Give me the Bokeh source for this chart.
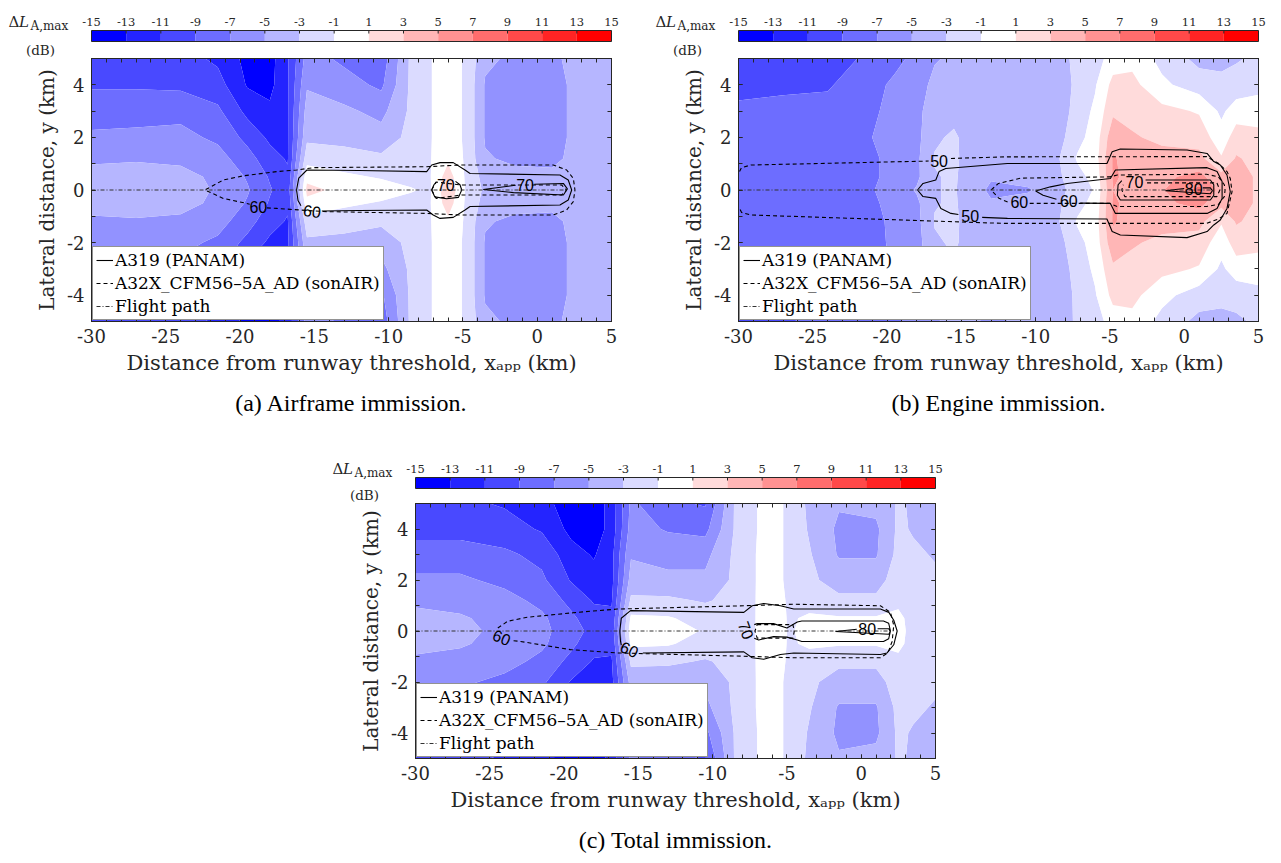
import numpy as np
from bokeh.plotting import figure
from bokeh.layouts import column, row
from bokeh.models import (FixedTicker, LinearAxis, Legend, LegendItem, Title,
                          ColumnDataSource, Spacer)
from bokeh.core.properties import value
from bokeh.embed import file_html
from bokeh.resources import INLINE

NAN = float("nan")

# ---------------- colour scale ----------------
LEVELS = [-15, -13, -11, -9, -7, -5, -3, -1, 1, 3, 5, 7, 9, 11, 13, 15]
LEVEL_LABELS = ["-15", "-13", "-11", "-9", "-7", "-5", "-3", "-1",
                "1", "3", "5", "7", "9", "11", "13", "15"]
BAND_COLORS = ["#0000ff", "#2424ff", "#4949ff", "#6d6dff", "#9292ff", "#b6b6ff",
               "#dbdbff", "#ffffff", "#ffdbdb", "#ffb6b6", "#ff9292", "#ff6d6d",
               "#ff4949", "#ff2424", "#ff0000"]

# ---------------- grid of the Delta L_A,max maps ----------------
X_GRID = [-30, -27, -24, -21.5, -19.5, -18, -16.8, -15.5, -13, -10.5, -8.5, -7.2,
          -6, -4.8, -3.5, -1.5, 1, 2.5, 3.5, 5]
Y_GRID = [5, 4, 3, 2, 1.2, 0.5, 0, -0.5, -1.2, -2, -3, -4, -5]

# one list per x column, values from y = 5 (top) to y = -5 (bottom), in dB
AIRFRAME_COLS = [
    [-9.4, -9.2, -8.0, -6.6, -5.4, -4.2, -4.0, -4.2, -5.4, -6.6, -8.0, -9.2, -9.6],
    [-9.6, -9.2, -8.0, -6.4, -5.2, -4.2, -4.0, -4.2, -5.2, -6.4, -8.0, -9.2, -9.6],
    [-10.2, -9.4, -7.6, -6.4, -5.4, -4.4, -4.2, -4.4, -5.4, -6.4, -7.6, -9.4, -10.2],
    [-11.4, -10.2, -8.6, -7.4, -6.2, -5.4, -5.2, -5.4, -6.2, -7.4, -8.6, -10.2, -11.4],
    [-13.6, -13.2, -11.6, -9.6, -8.2, -7.2, -6.8, -7.2, -8.2, -9.6, -11.6, -13.2, -13.6],
    [-13.8, -13.6, -12.6, -11.4, -10.2, -9.2, -8.8, -9.2, -10.2, -11.4, -12.6, -13.6, -13.8],
    [-11.2, -11.2, -11.2, -11.2, -11.2, -10.6, -10.2, -10.6, -11.2, -11.4, -11.6, -12.0, -12.4],
    [-6.2, -5.2, -4.2, -3.4, -1.8, 0.4, 1.6, 0.4, -1.8, -3.4, -4.2, -5.2, -6.2],
    [-7.4, -6.2, -4.6, -3.6, -2.2, -0.6, 0.4, -0.6, -2.2, -3.6, -4.6, -6.2, -7.4],
    [-8.2, -7.4, -5.6, -4.2, -2.6, -1.2, 0.0, -1.2, -2.6, -4.2, -5.6, -7.4, -8.2],
    [-2.6, -2.6, -2.6, -2.4, -2.0, -1.4, -0.9, -1.4, -2.0, -2.4, -2.6, -2.6, -2.6],
    [-1.1, -1.1, -1.1, -1.1, -1.1, -1.1, -1.2, -1.1, -1.1, -1.1, -1.1, -1.1, -1.1],
    [0.0, 0.0, 0.0, 0.0, 0.6, 2.0, 2.6, 2.0, 0.6, 0.0, 0.0, 0.0, 0.0],
    [-1.3, -1.3, -1.3, -1.3, -1.3, -1.3, -1.2, -1.3, -1.3, -1.3, -1.3, -1.3, -1.3],
    [-4.6, -5.2, -5.2, -5.2, -4.8, -3.8, -3.4, -3.8, -4.8, -5.2, -5.2, -5.2, -4.6],
    [-5.4, -5.8, -6.2, -6.2, -5.4, -4.4, -4.0, -4.4, -5.4, -6.2, -6.2, -5.8, -5.4],
    [-5.6, -6.2, -6.2, -6.2, -5.6, -4.4, -4.0, -4.4, -5.6, -6.2, -6.2, -6.2, -5.6],
    [-4.2, -4.4, -4.4, -4.4, -4.4, -4.0, -3.8, -4.0, -4.4, -4.4, -4.4, -4.4, -4.2],
    [-4.0, -4.0, -4.0, -4.0, -4.0, -4.0, -3.8, -4.0, -4.0, -4.0, -4.0, -4.0, -4.0],
    [-4.0, -4.0, -4.0, -4.0, -4.0, -4.0, -4.0, -4.0, -4.0, -4.0, -4.0, -4.0, -4.0],
]

ENGINE_COLS = [
    [-10.2, -9.6, -8.6, -8.4, -8.4, -8.4, -8.2, -8.4, -8.4, -8.4, -8.4, -8.6, -9.2],
    [-10.2, -9.4, -8.4, -8.4, -8.4, -8.4, -8.2, -8.4, -8.4, -8.4, -8.4, -8.6, -9.2],
    [-9.8, -9.2, -8.4, -8.4, -8.4, -8.2, -8.0, -8.2, -8.4, -8.4, -8.4, -8.4, -8.6],
    [-8.8, -8.0, -7.4, -7.2, -7.6, -7.6, -7.4, -7.6, -7.8, -8.0, -8.0, -8.0, -8.0],
    [-7.6, -6.6, -6.6, -6.4, -6.4, -6.4, -6.2, -6.4, -6.6, -6.6, -6.8, -6.8, -7.2],
    [-6.4, -6.0, -5.8, -5.6, -5.4, -5.4, -4.8, -5.4, -5.6, -5.8, -6.0, -6.4, -6.6],
    [-5.2, -4.4, -3.4, -3.2, -2.9, -3.1, -3.1, -3.1, -2.9, -3.2, -3.6, -4.4, -5.2],
    [-4.6, -4.0, -3.4, -2.8, -2.8, -2.8, -2.8, -2.8, -2.8, -2.8, -3.2, -4.0, -4.6],
    [-4.2, -4.0, -4.4, -4.4, -4.2, -4.8, -5.4, -4.8, -4.2, -4.4, -4.4, -4.6, -5.2],
    [-4.2, -4.6, -4.8, -4.2, -3.4, -4.2, -5.2, -4.2, -3.4, -4.2, -4.8, -4.8, -4.8],
    [-3.6, -4.0, -4.2, -3.8, -3.2, -3.4, -3.6, -3.4, -3.2, -3.8, -4.2, -4.2, -4.4],
    [-2.6, -2.6, -2.2, -1.6, -0.8, -1.6, -2.2, -1.6, -0.8, -1.6, -2.2, -2.6, -2.6],
    [-2.0, -1.2, -0.6, -0.2, 0.0, -0.4, -0.8, -0.4, 0.0, -0.2, -0.6, -1.2, -2.0],
    [0.0, 1.6, 2.6, 4.4, 5.2, 5.2, 5.0, 5.2, 5.2, 4.4, 2.6, 1.6, 0.0],
    [0.4, 1.6, 2.4, 3.2, 4.2, 4.6, 4.6, 4.6, 4.2, 3.2, 2.4, 1.6, 0.4],
    [-1.6, -0.6, 1.6, 2.6, 3.6, 4.6, 4.8, 4.6, 3.6, 2.6, 1.6, -0.4, -1.6],
    [-3.6, -2.0, 0.8, 2.2, 3.6, 5.6, 7.6, 5.6, 3.6, 2.2, 0.8, -2.0, -3.6],
    [-3.6, -2.4, -1.4, -0.2, 1.2, 3.6, 4.2, 3.6, 1.2, -0.2, -1.4, -2.4, -3.6],
    [-3.2, -2.2, 0.0, 2.0, 3.2, 4.2, 4.2, 4.2, 3.2, 2.0, 0.0, -2.2, -3.4],
    [-2.6, -1.6, 0.0, 1.6, 2.4, 2.6, 2.6, 2.6, 2.4, 1.6, 0.0, -1.6, -2.6],
]

TOTAL_COLS = [
    [-10.4, -9.6, -8.2, -6.6, -5.4, -4.4, -4.2, -4.4, -5.4, -6.6, -8.2, -9.6, -10.4],
    [-10.6, -9.6, -8.2, -6.6, -5.6, -4.8, -4.6, -4.8, -5.6, -6.6, -8.2, -9.6, -10.6],
    [-11.2, -10.2, -8.6, -7.6, -6.2, -5.6, -5.4, -5.6, -6.2, -7.6, -8.6, -10.2, -11.2],
    [-12.2, -11.2, -9.6, -8.6, -7.6, -6.6, -6.4, -6.6, -7.6, -8.6, -9.6, -11.2, -12.2],
    [-14.2, -13.6, -12.2, -11.2, -9.6, -8.6, -8.2, -8.6, -9.6, -11.2, -12.2, -13.6, -14.2],
    [-14.2, -14.2, -13.2, -12.2, -11.2, -10.2, -9.6, -10.2, -11.2, -12.2, -13.2, -14.2, -14.2],
    [-12.2, -12.2, -11.6, -11.6, -11.2, -10.6, -10.2, -10.6, -11.2, -11.6, -11.6, -12.2, -12.4],
    [-6.6, -6.2, -5.2, -4.2, -2.6, -0.6, 0.2, -0.6, -2.6, -4.2, -5.2, -6.2, -6.6],
    [-8.6, -7.2, -5.6, -4.6, -2.6, -0.8, 0.0, -0.8, -2.6, -4.6, -5.6, -7.2, -8.6],
    [-9.2, -7.6, -5.6, -4.6, -3.2, -1.8, -1.2, -1.8, -3.2, -4.6, -5.6, -7.6, -9.2],
    [-2.8, -2.8, -2.6, -2.6, -2.4, -2.0, -1.8, -2.0, -2.4, -2.6, -2.6, -2.8, -2.8],
    [-1.2, -1.2, -1.1, -1.1, -1.1, -1.1, -1.1, -1.1, -1.1, -1.1, -1.1, -1.2, -1.2],
    [0.0, 0.0, 0.0, 0.0, 0.2, 0.3, 0.5, 0.3, 0.2, 0.0, 0.0, 0.0, 0.0],
    [-1.6, -1.6, -1.6, -1.6, -1.4, -1.3, -1.3, -1.3, -1.4, -1.6, -1.6, -1.6, -1.6],
    [-3.4, -3.2, -2.8, -2.6, -2.0, -0.6, 0.0, -0.6, -2.0, -2.6, -2.8, -3.2, -3.4],
    [-4.8, -5.4, -5.2, -3.8, -2.6, -0.8, -0.2, -0.8, -2.6, -3.8, -5.2, -5.4, -4.8],
    [-4.4, -5.4, -5.2, -3.8, -2.6, -0.8, -0.2, -0.8, -2.6, -3.8, -5.2, -5.4, -4.4],
    [-2.8, -2.6, -2.4, -2.0, -1.4, -0.6, -0.4, -0.6, -1.4, -2.0, -2.4, -2.6, -2.8],
    [-3.2, -3.2, -2.6, -2.0, -1.6, -1.6, -1.6, -1.6, -1.6, -2.0, -2.6, -3.2, -3.2],
    [-3.4, -3.4, -3.2, -2.6, -2.2, -2.0, -2.0, -2.0, -2.2, -2.6, -3.2, -3.4, -3.4],
]

# ---------------- L_A,max contour lines (km), NaN separates pieces ----------------
# (a) airframe
A_SOLID_X = [-14.5, -12.0, -7.44, -7.0, -6.54, -5.65, -4.86, -4.52, 1.53, 2.09, 2.32, 2.09, 1.53,
             -4.52, -4.86, -5.65, -6.54, -7.1, -7.44, -12.0, -15.5, -16.05, -16.2, -16.1, -15.9, NAN,
             -6.8, -6.95, -7.1, -6.9, -6.1, -5.3, -5.08, -5.2, -5.5, NAN,
             -0.2, 1.76, 2.03, 1.76, -1.6, -3.63, -1.6, -1.45]
A_SOLID_Y = [-0.80, -0.78, -0.76, -0.95, -1.08, -1.04, -0.76, -0.63, -0.57, -0.38, 0.0, 0.38, 0.57,
             0.63, 0.76, 1.04, 1.04, 0.95, 0.70, 0.74, 0.76, 0.45, 0.0, -0.4, -0.6, NAN,
             0.3, 0.2, 0.0, -0.26, -0.33, -0.28, 0.0, 0.2, 0.33, NAN,
             0.22, 0.25, 0.04, -0.19, -0.1, 0.02, 0.17, 0.18]
A_DASH_X = [-18.2, -17.54, -14.4, -7.44, -5.2, 1.08, 1.98, 2.43, 2.54, 2.43, 1.98, 1.08, -5.2,
            -7.44, -15.07, -16.19, -17.54, -19.78, -21.13, -22.36, -21.13, -19.56, -19.35, NAN,
            -7.11, -6.8, -5.09, 1.64, 1.98, 1.64, -5.09, -6.8, -7.11]
A_DASH_Y = [-0.68, -0.70, -0.82, -0.89, -0.95, -0.95, -0.76, -0.44, 0.0, 0.44, 0.76, 0.95, 0.95,
            0.885, 0.85, 0.76, 0.70, 0.54, 0.38, 0.0, -0.32, -0.51, -0.54, NAN,
            0.0, 0.3, 0.19, 0.19, 0.0, -0.19, -0.19, -0.32, 0.0]
A_LABEL_X = [-15.15, -18.77, -6.15, -0.82]
A_LABEL_Y = [-0.80, -0.63, 0.19, 0.18]
A_LABEL_TEXT = ["60", "60", "70", "70"]
A_LABEL_ANGLE = [-8, 0, 0, 0]

# (b) engine
B_SOLID_X = [-13.6, -11.9, -5.2, -4.85, -4.3, 0.19, 1.54, 1.99, 2.43, 2.88, 3.1, 2.88, 2.43, 1.99,
             1.54, 0.19, -4.3, -4.85, -5.2, -11.9, -16.05, -16.5, -16.72, -17.58, -17.95, -17.58,
             -16.72, -16.38, -15.7, -15.2, NAN,
             -7.0, -4.97, -4.63, 1.54, 2.21, 2.55, 2.55, 2.21, 1.54, -4.63, -4.97, -7.88, -9.0,
             -10.0, -9.5, -8.6, NAN,
             -2.6, 1.76, 1.99, 1.99, 1.76, -4.3, -4.5, -4.45, -4.2, NAN,
             1.25, 1.76, 1.9, 1.76, -1.27, 0.0]
B_SOLID_Y = [-1.04, -1.08, -1.1, -1.58, -1.71, -1.81, -1.58, -1.33, -1.14, -0.7, -0.06, 0.57, 0.95,
             1.08, 1.39, 1.52, 1.56, 1.455, 1.01, 1.01, 0.82, 0.7, 0.38, 0.25, 0.0, -0.25,
             -0.32, -0.70, -0.89, -0.93, NAN,
             -0.5, -0.51, -0.89, -0.89, -0.7, -0.32, 0.32, 0.7, 0.85, 0.76, 0.44, 0.25, 0.12,
             -0.04, -0.2, -0.35, NAN,
             0.38, 0.38, 0.2, -0.2, -0.38, -0.38, -0.2, 0.2, 0.36, NAN,
             0.08, 0.08, -0.03, -0.14, -0.03, 0.06]
B_DASH_X = [-29.93, -29.8, -29.17, -17.2, NAN,
            -15.7, -12.0, 1.5, 2.32, 2.88, 3.1, 3.22, 2.88, 2.32, 1.5, -12.12, -15.85, -29.17,
            -29.8, -29.93, NAN,
            -10.4, -5.0, -4.5, 1.5, 2.3, 2.7, 2.75, 2.7, 2.3, 1.5, -4.5, -5.0, -11.0, -12.5,
            -13.0, -12.5, -11.8, NAN,
            -2.5, 2.2, 2.4, 2.2, -4.0, -4.2, -4.1]
B_DASH_Y = [0.7, 0.85, 0.95, 1.1, NAN,
            1.2, 1.26, 1.27, 1.01, 0.7, 0.44, -0.06, -0.89, -1.1, -1.27, -1.27, -1.2, -0.95,
            -0.85, -0.7, NAN,
            -0.51, -0.51, -0.63, -0.63, -0.55, -0.25, 0.0, 0.2, 0.5, 0.6, 0.57, 0.5, 0.45, 0.25,
            0.0, -0.3, -0.48, NAN,
            0.27, 0.27, 0.0, -0.25, -0.25, 0.0, 0.2]
B_LABEL_X = [-14.4, -16.5, -7.77, -11.1, -3.35, 0.64]
B_LABEL_Y = [-0.98, 1.12, -0.43, -0.46, 0.3, 0.05]
B_LABEL_TEXT = ["50", "50", "60", "60", "70", "80"]
B_LABEL_ANGLE = [0, 0, 0, 0, 0, 0]

# (c) total
C_SOLID_X = [-14.7, -7.9, -7.34, -6.56, -5.44, -4.54, 1.29, 1.74, 2.19, 2.42, 2.19, 1.86, 1.29,
             -4.54, -5.44, -6.56, -7.34, -7.9, -15.53, -16.15, -16.25, -16.2, -16.15, NAN,
             -7.2, -7.0, -5.9, -5.0, -4.3, -4.0, 1.5, 1.85, 1.97, 1.85, 1.5, -4.0, -4.3, -5.0,
             -5.9, -6.9, -7.2, NAN,
             1.1, 1.86, 1.95, 1.86, -1.73, -0.3]
C_SOLID_Y = [-0.86, -0.82, -1.05, -1.11, -0.92, -0.86, -0.92, -0.86, -0.54, 0.0, 0.42, 0.73, 0.86,
             0.86, 0.99, 1.08, 0.99, 0.73, 0.80, 0.5, 0.0, -0.4, -0.55, NAN,
             0.25, 0.29, 0.29, 0.12, 0.35, 0.39, 0.39, 0.3, 0.0, -0.3, -0.41, -0.41, -0.35, -0.24,
             -0.22, -0.35, -0.28, NAN,
             0.09, 0.09, -0.02, -0.13, -0.02, 0.07]
C_DASH_X = [-23.4, -22.93, -19.57, -16.43, -7.9, -4.54, 1.29, 1.8, 2.08, 2.19, 1.97, 1.29, -4.54,
            -7.9, -16.43, -19.12, -22.48, -23.8, -24.55, NAN,
            -7.0, -4.6, -4.5, -4.6, -7.0, -7.15, -7.0]
C_DASH_Y = [-0.38, -0.41, -0.73, -0.86, -0.99, -1.05, -1.05, -0.85, -0.41, 0.22, 0.73, 0.99, 1.05,
            0.99, 0.86, 0.73, 0.54, 0.38, 0.08, NAN,
            0.25, 0.25, 0.0, -0.28, -0.28, 0.0, 0.25]
C_LABEL_X = [-15.6, -24.2, -7.75, 0.4]
C_LABEL_Y = [-0.72, -0.25, 0.03, 0.06]
C_LABEL_TEXT = ["60", "60", "70", "80"]
C_LABEL_ANGLE = [-25, -22, -70, 0]

FLIGHT_X = [-30, 2]
FLIGHT_Y = [0, 0]

X_TICKS = [-30, -25, -20, -15, -10, -5, 0, 5]
X_TICK_LABELS = ["-30", "-25", "-20", "-15", "-10", "-5", "0", "5"]
Y_TICKS = [-4, -2, 0, 2, 4]
Y_TICK_LABELS = ["-4", "-2", "0", "2", "4"]

CAPTIONS = ["(a) Airframe immission.", "(b) Engine immission.", "(c) Total immission."]

# ---------------- styling ----------------
SERIF = "DejaVu Serif"
CAP_FONT = "Liberation Serif"
FRAME = "#262626"
FRAME_W = 520.0          # plot-frame width in px (shared by colour bars)


def style_ticks(ax, font_px):
    ax.major_tick_in = 4
    ax.major_tick_out = 0
    ax.minor_tick_in = 4
    ax.minor_tick_out = 0
    ax.axis_line_color = FRAME
    ax.major_tick_line_color = FRAME
    ax.minor_tick_line_color = FRAME
    ax.major_label_text_font = SERIF
    ax.major_label_text_font_size = font_px
    ax.major_label_text_color = FRAME


def colorbar_fig(width, left, height, bar_top, db_base):
    k = FRAME_W / (LEVELS[-1] - LEVELS[0])          # px per dB
    x0 = LEVELS[0] - left / k
    x1 = LEVELS[-1] + (width - left - FRAME_W) / k
    p = figure(width=width, height=height, x_range=(x0, x1), y_range=(0, height),
               x_axis_location=None, y_axis_location=None, frame_align=False,
               toolbar_location=None, output_backend="svg",
               min_border_left=0, min_border_right=0, min_border_top=0, min_border_bottom=0)
    p.outline_line_color = None
    p.grid.visible = False
    top = height - bar_top
    bot = top - 11
    p.quad(left=LEVELS[:-1], right=LEVELS[1:], bottom=bot, top=top,
           fill_color=BAND_COLORS, line_color=None)
    p.quad(left=LEVELS[0], right=LEVELS[-1], bottom=bot, top=top,
           fill_color=None, line_color=FRAME, line_width=1)
    p.segment(x0=LEVELS[1:-1], y0=top, x1=LEVELS[1:-1], y1=top - 3,
              line_color=FRAME, line_width=1)
    p.text(x=LEVELS, y=[top + 9] * len(LEVELS), text=LEVEL_LABELS,
           text_align="center", text_baseline="alphabetic",
           text_font=value(SERIF), text_font_size="11.5px", text_color=FRAME)

    def tx(px_off):
        return LEVELS[0] + px_off / k

    base_main = top + 8.5
    p.text(x=[tx(-83)], y=[base_main], text=["Δ"], text_align="left",
           text_baseline="alphabetic", text_font=value(SERIF), text_font_size="15px",
           text_color=FRAME)
    p.text(x=[tx(-72.5)], y=[base_main], text=["L"], text_align="left",
           text_baseline="alphabetic", text_font=value(SERIF), text_font_size="15px",
           text_font_style=value("italic"), text_color=FRAME)
    p.text(x=[tx(-61)], y=[top + 5], text=["A,max"], text_align="left",
           text_baseline="alphabetic", text_font=value(SERIF), text_font_size="12px",
           text_color=FRAME)
    p.text(x=[tx(-51)], y=[height - db_base], text=["(dB)"], text_align="center",
           text_baseline="alphabetic", text_font=value(SERIF), text_font_size="13.5px",
           text_color=FRAME)
    return p


def main_fig(width, left, right, top, frame_h, bottom, cols, solid, dash, labels, caption):
    p = figure(width=width, height=top + frame_h + bottom, x_range=(-30, 5), y_range=(-5, 5),
               toolbar_location=None, output_backend="svg", frame_align=False,
               min_border_left=left, min_border_right=right,
               min_border_top=top, min_border_bottom=bottom)
    p.grid.visible = False
    p.outline_line_color = FRAME

    z = np.array(cols, dtype=float).T[::-1]
    yy = np.array(Y_GRID, dtype=float)[::-1]
    p.contour(x=np.array(X_GRID, dtype=float), y=yy, z=z, levels=LEVELS,
              fill_color=BAND_COLORS, line_color=None)

    r_solid = p.line(solid[0], solid[1], line_color="black", line_width=1.1)
    r_dash = p.line(dash[0], dash[1], line_color="black", line_width=1.1, line_dash="4 3")
    r_fp = p.line(FLIGHT_X, FLIGHT_Y, line_color="#333333", line_width=1,
                  line_dash="4 2 1 2")

    src = ColumnDataSource(dict(x=labels[0], y=labels[1], t=labels[2], a=labels[3]))
    p.text(x="x", y="y", text="t", angle="a", angle_units="deg", source=src,
           text_font=value("Liberation Sans"), text_font_size="16px",
           text_align="center", text_baseline="middle", text_color="black")

    xt = FixedTicker(ticks=X_TICKS, minor_ticks=list(range(-30, 6)))
    yt = FixedTicker(ticks=Y_TICKS, minor_ticks=list(range(-5, 6)))
    xa = p.xaxis[0]
    ya = p.yaxis[0]
    xa.ticker = xt
    ya.ticker = yt
    xa.major_label_overrides = {v: s for v, s in zip(X_TICKS, X_TICK_LABELS)}
    ya.major_label_overrides = {v: s for v, s in zip(Y_TICKS, Y_TICK_LABELS)}
    for ax in (xa, ya):
        style_ticks(ax, "18px")
        ax.axis_label_text_font = SERIF
        ax.axis_label_text_font_style = "normal"
        ax.axis_label_text_color = FRAME
    xa.axis_label_text_font_size = "21px"
    ya.axis_label_text_font_size = "20px"
    xa.axis_label = "Distance from runway threshold, xₐₚₚ (km)"
    ya.axis_label = "Lateral distance, y (km)"
    xa.major_label_standoff = 7
    xa.axis_label_standoff = 5
    ya.major_label_standoff = 7
    ya.axis_label_standoff = 5

    for loc, tk in (("above", xt), ("right", yt)):
        ax = LinearAxis(ticker=tk)
        style_ticks(ax, "0px")
        ax.major_label_standoff = 0
        ax.major_label_text_alpha = 0
        p.add_layout(ax, loc)

    legend = Legend(items=[LegendItem(label="A319 (PANAM)", renderers=[r_solid]),
                           LegendItem(label="A32X_CFM56–5A_AD (sonAIR)", renderers=[r_dash]),
                           LegendItem(label="Flight path", renderers=[r_fp])],
                    location="bottom_left", margin=1, padding=3, spacing=3,
                    glyph_width=17, glyph_height=20, label_height=20, label_standoff=2,
                    label_text_font=SERIF, label_text_font_size="17px",
                    label_text_color="black", border_line_color=FRAME, border_line_width=1,
                    background_fill_alpha=1.0)
    p.add_layout(legend)

    p.add_layout(Title(text=caption, align="center", standoff=21, text_font=CAP_FONT,
                       text_font_size="24px", text_font_style="normal",
                       text_color="black"), "below")
    return p


cbA = colorbar_fig(640, 91, 58, 30, 49.5)
pA = main_fig(640, 91, 29, 0, 263, 124, AIRFRAME_COLS, (A_SOLID_X, A_SOLID_Y),
              (A_DASH_X, A_DASH_Y), (A_LABEL_X, A_LABEL_Y, A_LABEL_TEXT, A_LABEL_ANGLE),
              CAPTIONS[0])
cbB = colorbar_fig(641, 98, 58, 30, 49.5)
pB = main_fig(641, 98, 23, 0, 263, 124, ENGINE_COLS, (B_SOLID_X, B_SOLID_Y),
              (B_DASH_X, B_DASH_Y), (B_LABEL_X, B_LABEL_Y, B_LABEL_TEXT, B_LABEL_ANGLE),
              CAPTIONS[1])
cbC = colorbar_fig(640, 91, 58, 32, 49.5)
pC = main_fig(640, 91, 29, 0, 262, 98, TOTAL_COLS, (C_SOLID_X, C_SOLID_Y),
              (C_DASH_X, C_DASH_Y), (C_LABEL_X, C_LABEL_Y, C_LABEL_TEXT, C_LABEL_ANGLE),
              CAPTIONS[2])

layout = column(row(column(cbA, pA), column(cbB, pB)),
                row(Spacer(width=324, height=418), column(cbC, pC)))

with open("out.html", "w") as f:
    f.write(file_html(layout, INLINE, "Delta L_A,max maps"))
